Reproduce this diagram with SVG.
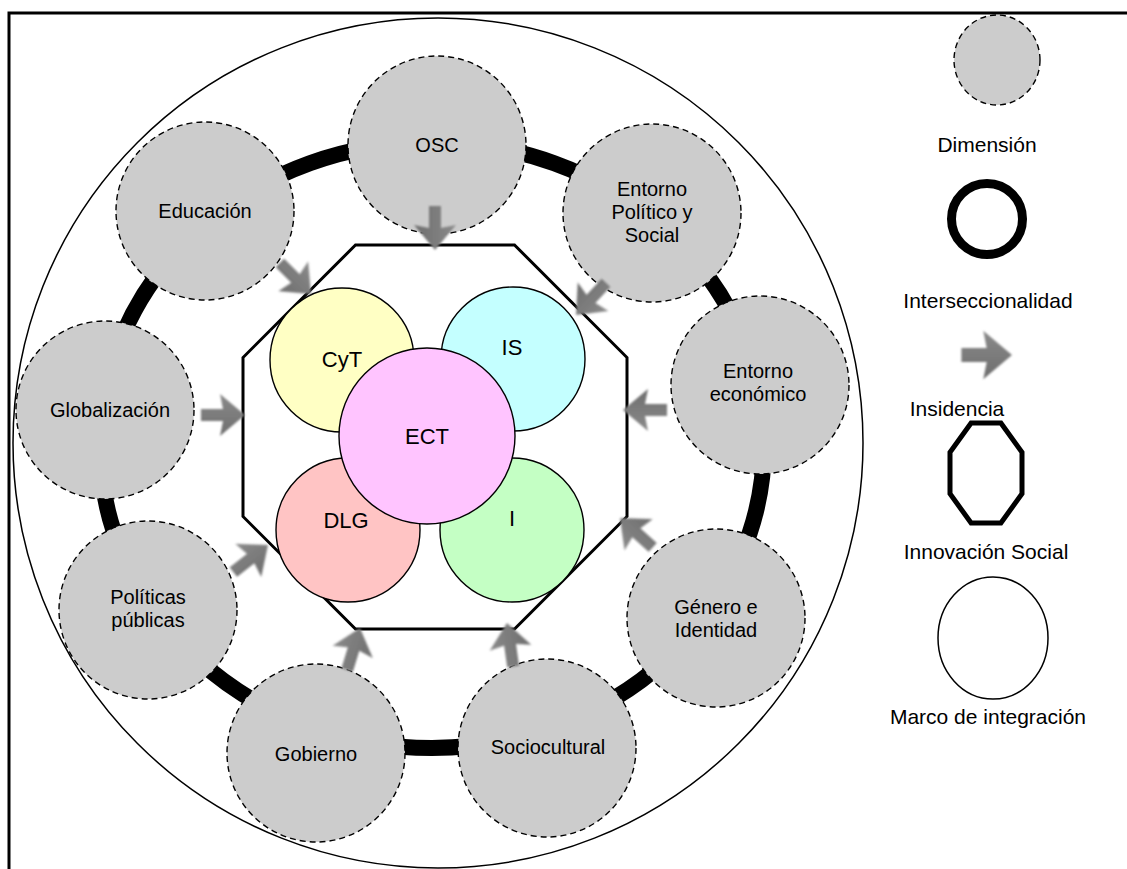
<svg xmlns="http://www.w3.org/2000/svg" xmlns:xlink="http://www.w3.org/1999/xlink" width="1127" height="869" viewBox="0 0 1127 869">
<style>
text{font-family:"Liberation Sans",Arial,sans-serif;fill:#000;text-anchor:middle}
.dl{font-size:20px}
.il{font-size:22px}
.lg{font-size:21px}
.dim{fill:#cccccc;stroke:#000;stroke-width:1.4;stroke-dasharray:6,4}
.in{stroke:#000;stroke-width:1.4}
</style>
<defs>
<linearGradient id="ag" x1="0" y1="0" x2="0" y2="1">
<stop offset="0" stop-color="#8a8a8a"/>
<stop offset="1" stop-color="#6e6e6e"/>
</linearGradient>
<filter id="bl" x="-30%" y="-30%" width="160%" height="160%">
<feGaussianBlur stdDeviation="0.9"/>
</filter>
<path id="arr" d="M-44,-6 L-22,-6 L-25,-21 L0,0 L-25,21 L-22,6 L-44,6 Z" fill="url(#ag)" filter="url(#bl)"/>
</defs>
<rect width="1127" height="869" fill="#fff"/>
<polyline points="1127,13 9,13 9,869" fill="none" stroke="#000" stroke-width="3"/>
<g id="marco">
<circle cx="438" cy="443" r="425" fill="#fff" stroke="#000" stroke-width="1.5"/>
</g>
<g id="interseccionalidad">
<ellipse cx="432" cy="445" rx="332" ry="303" fill="none" stroke="#000" stroke-width="16"/>
</g>
<g id="innovacion">
<polygon points="355.5,245 514.5,245 627,357.5 627,516.5 514.5,629 355.5,629 243,516.5 243,357.5" fill="#fff" stroke="#000" stroke-width="3"/>
</g>
<g id="n-osc"><circle class="dim" cx="437" cy="145" r="89"/><text class="dl" x="437" y="152">OSC</text></g>
<g id="n-educacion"><circle class="dim" cx="205" cy="211" r="89"/><text class="dl" x="205" y="218">Educación</text></g>
<g id="n-politico"><circle class="dim" cx="652" cy="213" r="89"/><text class="dl" x="652" y="196">Entorno</text><text class="dl" x="652" y="219">Político y</text><text class="dl" x="652" y="242">Social</text></g>
<g id="n-globalizacion"><circle class="dim" cx="105" cy="410" r="89"/><text class="dl" x="110" y="417">Globalización</text></g>
<g id="n-economico"><circle class="dim" cx="760" cy="385" r="89"/><text class="dl" x="758" y="378">Entorno</text><text class="dl" x="758" y="401">económico</text></g>
<g id="n-politicas"><circle class="dim" cx="148" cy="610" r="89"/><text class="dl" x="148" y="604">Políticas</text><text class="dl" x="148" y="627">públicas</text></g>
<g id="n-gobierno"><circle class="dim" cx="316" cy="753" r="89"/><text class="dl" x="316" y="761">Gobierno</text></g>
<g id="n-sociocultural"><circle class="dim" cx="547" cy="748" r="89"/><text class="dl" x="548" y="754">Sociocultural</text></g>
<g id="n-genero"><circle class="dim" cx="716" cy="618" r="89"/><text class="dl" x="716" y="614">Género e</text><text class="dl" x="716" y="637">Identidad</text></g>
<g id="n-cyt"><circle class="in" cx="342" cy="360" r="72" fill="#ffffc4"/><text class="il" x="342" y="367">CyT</text></g>
<g id="n-is"><circle class="in" cx="513" cy="359" r="72" fill="#c4ffff"/><text class="il" x="512" y="355">IS</text></g>
<g id="n-dlg"><circle class="in" cx="348" cy="530" r="72" fill="#ffc4c4"/><text class="il" x="346" y="528">DLG</text></g>
<g id="n-i"><circle class="in" cx="512" cy="530" r="72" fill="#c4ffc4"/><text class="il" x="512" y="526">I</text></g>
<g id="n-ect"><circle class="in" cx="427" cy="436" r="88" fill="#ffc4ff"/><text class="il" x="427" y="444">ECT</text></g>
<g id="connectors">
<use xlink:href="#arr" transform="translate(435,250) rotate(90)"/>
<use xlink:href="#arr" transform="translate(311,294) rotate(45)"/>
<use xlink:href="#arr" transform="translate(576,315) rotate(133)"/>
<use xlink:href="#arr" transform="translate(245,415)"/>
<use xlink:href="#arr" transform="translate(623,410) rotate(180)"/>
<use xlink:href="#arr" transform="translate(268,545) rotate(-38)"/>
<use xlink:href="#arr" transform="translate(360,628) rotate(-73)"/>
<use xlink:href="#arr" transform="translate(507,623) rotate(-98)"/>
<use xlink:href="#arr" transform="translate(620,518) rotate(-138)"/>
</g>
<g id="legend">
<ellipse class="dim" cx="997" cy="60" rx="43" ry="45"/>
<text class="lg" x="987" y="152">Dimensión</text>
<circle cx="987" cy="219" r="35.5" fill="none" stroke="#000" stroke-width="9"/>
<text class="lg" x="988" y="308">Interseccionalidad</text>
<use xlink:href="#arr" transform="translate(1012,355) scale(1.15)"/>
<text class="lg" x="957" y="416">Insidencia</text>
<polygon points="971.1,423 1000.9,423 1022,452.3 1022,493.7 1000.9,523 971.1,523 950,493.7 950,452.3" fill="#fff" stroke="#000" stroke-width="5"/>
<text class="lg" x="986" y="559">Innovación Social</text>
<ellipse cx="993" cy="638" rx="55" ry="61" fill="#fff" stroke="#000" stroke-width="1.5"/>
<text class="lg" x="988" y="724">Marco de integración</text>
</g>
</svg>
